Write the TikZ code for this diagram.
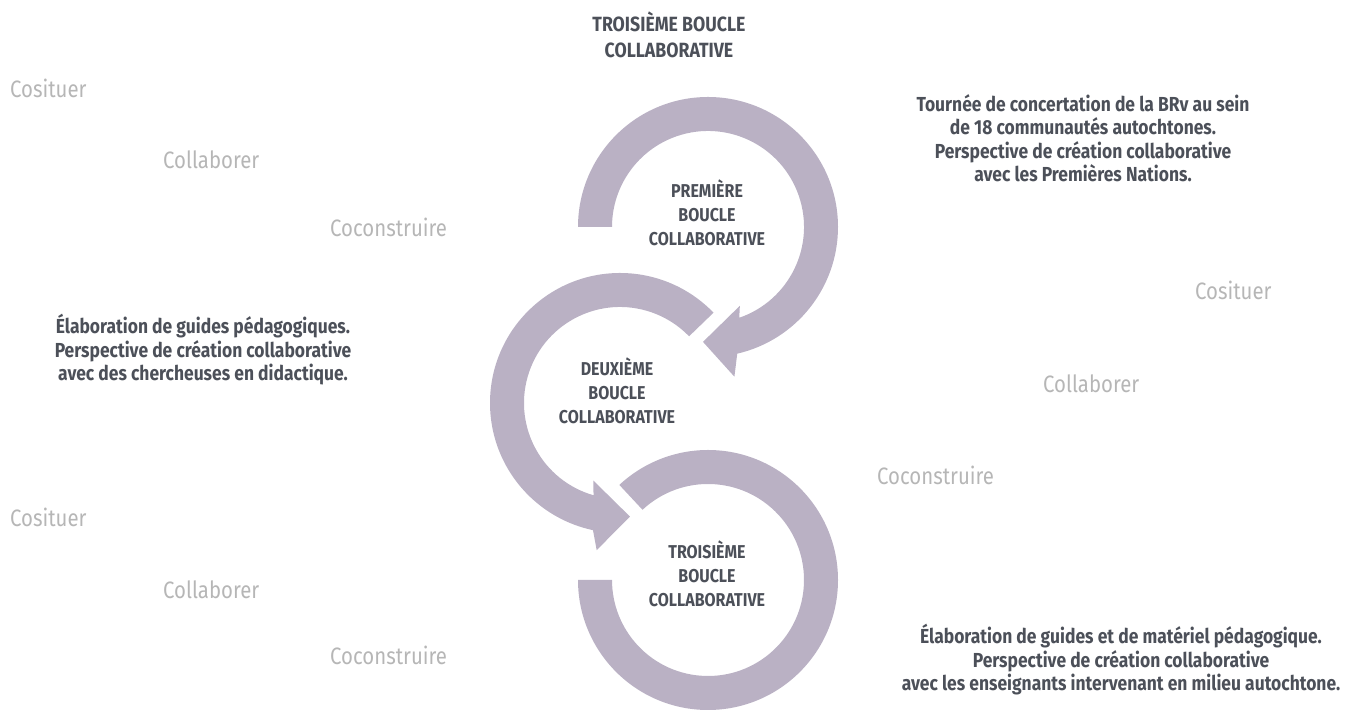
\documentclass[tikz,border=0pt]{standalone}
\usepackage{fontspec}
\setmainfont{Fira Sans}[FakeStretch=0.86]
\usetikzlibrary{positioning}
\definecolor{Loopcol}{RGB}{186, 177, 196}
\definecolor{Titlecol}{RGB}{76, 80, 89}
\definecolor{Wordcol}{RGB}{182, 182, 182}

\begin{document}
\begin{tikzpicture}[
    x=1pt, y=1pt,
    every node/.style={align=center},
    looplabel/.style={
        text=Titlecol, inner sep=0pt,
        font=\fontsize{18.6}{24}\selectfont\bfseries
    },
    desclabel/.style={
        text=Titlecol, inner sep=0pt,
        font=\fontsize{20.3}{23.5}\selectfont\bfseries
    },
    wordlabel/.style={
        text=Wordcol, anchor=west, inner sep=0pt,
        font=\fontsize{23.7}{26}\selectfont
    },
    loopband/.style={fill=Loopcol}
]

    \useasboundingbox (0,0) rectangle (1353,711);

    % ------------------- BOUCLES (ANNEAUX) -------------------

    % Premiere boucle - sens horaire, fleche en bas
    \fill[loopband, shift={(708,484)}] (180:130) arc[start angle=180, end angle=-77, radius=130]
        -- (-80:152) -- (-92.5:115) -- (-68:85) -- (-71:96)
        arc[start angle=-71, end angle=180, radius=96] -- cycle;

    % Deuxieme boucle - sens anti-horaire, fleche en bas
    \fill[loopband, shift={(620,308)}] (44:130) arc[start angle=44, end angle=258, radius=130]
        -- (261:149) -- (275:114) -- (251:82) -- (254:96)
        arc[start angle=254, end angle=44, radius=96] -- cycle;

    % Troisieme boucle - sans fleche
    \fill[loopband, shift={(708,131)}] (180:130) arc[start angle=180, end angle=493, radius=130]
        -- (493:96) arc[start angle=493, end angle=180, radius=96] -- cycle;

    % ------------------- LABELS DES BOUCLES -------------------

    \node[looplabel, font=\fontsize{20.6}{26}\selectfont\bfseries] (lTopTitle) at (669, 676) {TROISIÈME BOUCLE\\COLLABORATIVE};

    \node[looplabel] (lPremiere) at (707, 498) {PREMIÈRE\\BOUCLE\\COLLABORATIVE};
    \node[looplabel] (lDeuxieme) at (617, 320) {DEUXIÈME\\BOUCLE\\COLLABORATIVE};
    \node[looplabel] (lTroisieme) at (707, 137) {TROISIÈME\\BOUCLE\\COLLABORATIVE};

    % ------------------- DESCRIPTIONS -------------------

    \node[desclabel] (lDescBRv) at (1083, 573) {Tournée de concertation de la BRv au sein\\de 18 communautés autochtones.\\Perspective de création collaborative\\avec les Premières Nations.};

    \node[desclabel] (lDescGuides) at (203, 361) {Élaboration de guides pédagogiques.\\Perspective de création collaborative\\avec des chercheuses en didactique.};

    \node[desclabel] (lDescMateriel) at (1121, 51) {Élaboration de guides et de matériel pédagogique.\\Perspective de création collaborative\\avec les enseignants intervenant en milieu autochtone.};

    % ------------------- MOTS (GRIS CLAIR) -------------------

    % --- Haut gauche ---
    \node[wordlabel] (lCosituerA) at (10, 623) {Cosituer};
    \node[wordlabel] (lCollaborerA) at (163, 551) {Collaborer};
    \node[wordlabel] (lCoconstruireA) at (330, 484) {Coconstruire};

    % --- Droite ---
    \node[wordlabel] (lCosituerB) at (1195, 421) {Cosituer};
    \node[wordlabel] (lCollaborerB) at (1043, 327) {Collaborer};
    \node[wordlabel] (lCoconstruireB) at (877, 236) {Coconstruire};

    % --- Bas gauche ---
    \node[wordlabel] (lCosituerC) at (10, 194) {Cosituer};
    \node[wordlabel] (lCollaborerC) at (163, 121) {Collaborer};
    \node[wordlabel] (lCoconstruireC) at (330, 56) {Coconstruire};
\end{tikzpicture}
\end{document}
